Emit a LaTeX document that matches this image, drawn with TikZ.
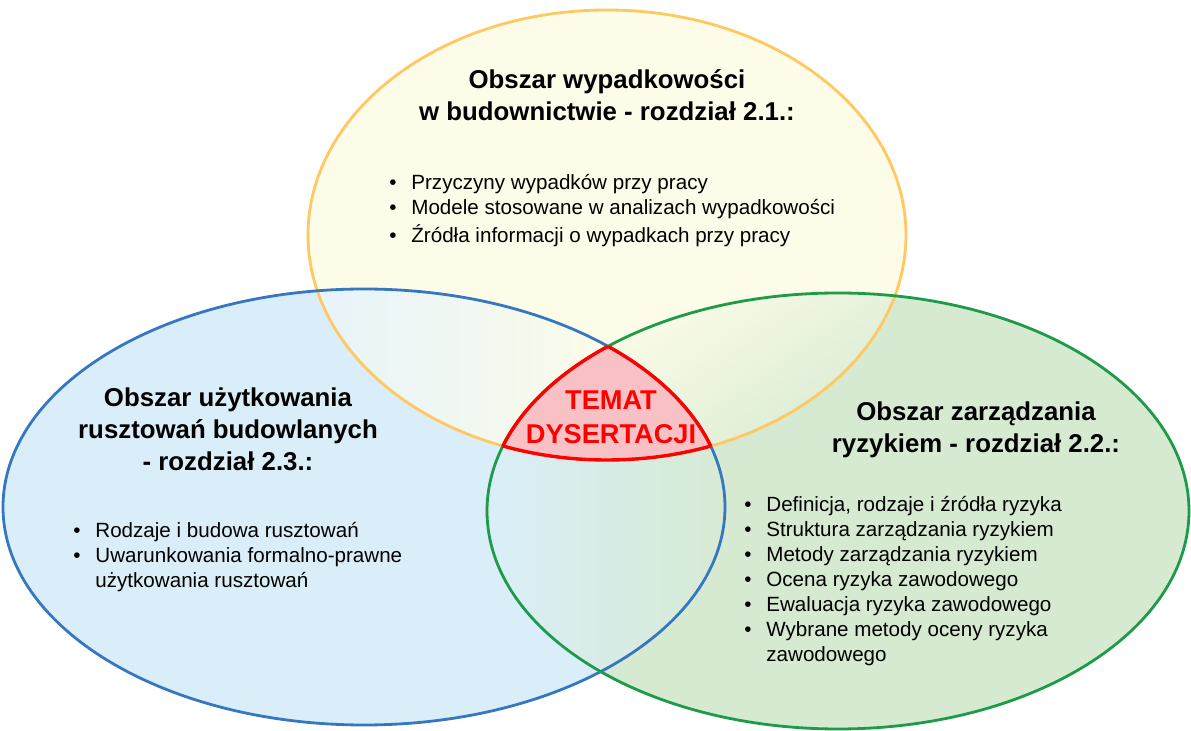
\documentclass[tikz,border=0pt]{standalone}
\usepackage{fontspec}
\setmainfont{Liberation Sans}
\definecolor{yfill}{HTML}{FCFCE8}
\definecolor{yline}{HTML}{FFC860}
\definecolor{bfill}{HTML}{DAEEF9}
\definecolor{bline}{HTML}{3677C2}
\definecolor{gfill}{HTML}{D6EAD2}
\definecolor{gline}{HTML}{1E9B48}
\definecolor{pinkfill}{HTML}{F8C1C5}
\definecolor{redline}{HTML}{FF0000}
\newcommand\bli[1]{\makebox[11pt][l]{•}#1}
\begin{document}
\begin{tikzpicture}[x=0.5pt,y=-0.5pt,
  outline/.style={line width=1.4pt},
  title/.style={font=\fontsize{12.9}{16}\selectfont\bfseries, align=center, inner sep=0pt, anchor=base},
  items/.style={font=\fontsize{10.3}{12.5}\selectfont, align=left, inner sep=0pt, anchor=base west},
  centre/.style={font=\fontsize{13.6}{17}\selectfont\bfseries, text=redline, align=center, inner sep=0pt, anchor=base}]
\useasboundingbox (0,0) rectangle (1191,731);

% the three areas
\def\yell{(607,235) ellipse [x radius=299, y radius=225]}
\def\blu{(364,507) ellipse [x radius=361, y radius=218]}
\def\grn{(838,511) ellipse [x radius=351, y radius=218]}

\fill[yfill] \yell;
\fill[bfill] \blu;
\fill[gfill] \grn;

% pairwise overlaps
\begin{scope}
  \clip \yell; \clip \blu;
  \shade[left color=bfill!70!white, right color=yfill] (300,280) rectangle (620,470);
\end{scope}
\begin{scope}
  \clip \yell; \clip \grn;
  \shade[shading=axis, top color=yfill, bottom color=gfill, shading angle=35] (590,280) rectangle (910,470);
\end{scope}
\begin{scope}
  \clip \blu; \clip \grn;
  \shade[left color=bfill, right color=gfill] (490,290) rectangle (730,690);
\end{scope}

% common part of all three
\begin{scope}
  \clip \yell; \clip \blu; \clip \grn;
  \fill[pinkfill] (480,330) rectangle (740,470);
\end{scope}

% outlines
\draw[outline, yline] \yell;
\draw[outline, bline] \blu;
\draw[outline, gline] \grn;

% red border of the common part
\begin{scope}
  \clip \yell; \clip \blu;
  \draw[redline, line width=1.7pt] \grn;
\end{scope}
\begin{scope}
  \clip \yell; \clip \grn;
  \draw[redline, line width=1.7pt] \blu;
\end{scope}
\begin{scope}
  \clip \blu; \clip \grn;
  \draw[redline, line width=1.7pt] \yell;
\end{scope}

% texts (each node is anchored at the baseline of its last line)
\node[title] (yt) at (607,121) {Obszar wypadkowości\\w budownictwie - rozdział 2.1.:};
\node[items] (yl) at (389,243) {\bli{Przyczyny wypadków przy pracy}\\
  \bli{Modele stosowane w analizach wypadkowości}\\[1.5pt]
  \bli{Źródła informacji o wypadkach przy pracy}};

\node[title] (bt) at (228,471) {Obszar użytkowania\\rusztowań budowlanych\\- rozdział 2.3.:};
\node[items] (bl) at (73,588) {\bli{Rodzaje i budowa rusztowań}\\
  \bli{Uwarunkowania formalno-prawne}\\
  \hspace*{11pt}użytkowania rusztowań};

\node[title] (gt) at (976,453) {Obszar zarządzania\\ryzykiem - rozdział 2.2.:};
\node[items] (gl) at (744,662) {\bli{Definicja, rodzaje i źródła ryzyka}\\
  \bli{Struktura zarządzania ryzykiem}\\
  \bli{Metody zarządzania ryzykiem}\\
  \bli{Ocena ryzyka zawodowego}\\
  \bli{Ewaluacja ryzyka zawodowego}\\
  \bli{Wybrane metody oceny ryzyka}\\
  \hspace*{11pt}zawodowego};

\node[centre] (tm) at (611,444) {TEMAT\\DYSERTACJI};
\end{tikzpicture}
\end{document}
